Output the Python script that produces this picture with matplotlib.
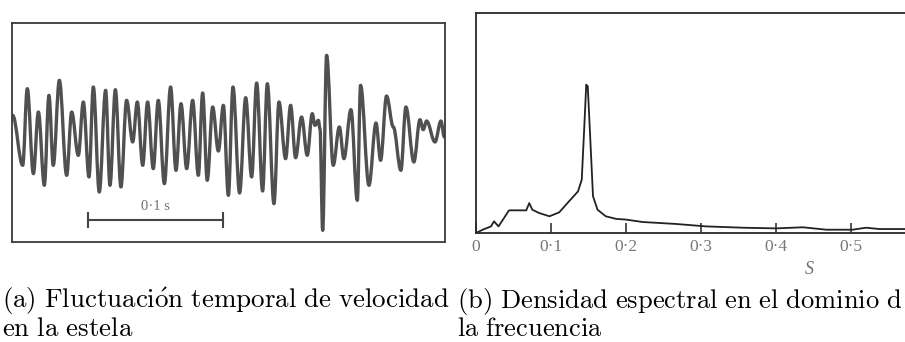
import matplotlib
matplotlib.use("Agg")
import matplotlib.pyplot as plt
from matplotlib.path import Path
from matplotlib.patches import PathPatch

plt.rcParams['mathtext.fontset'] = 'cm'

# (a) velocity trace: successive peaks/troughs, time in ms, u' arbitrary units
t_ext = [0.5, 7.9, 11.3, 15.8, 19.5, 23.9, 27.3, 30.5, 35.0, 40.4,
         44.1, 49.0, 52.7, 56.9, 60.1, 64.5, 69.2, 72.4, 76.4, 80.5,
         84.7, 89.2, 92.6, 96.6, 100.2, 104.4, 108.1, 112.6, 117.2, 121.2,
         124.9, 129.1, 133.5, 137.7, 140.9, 144.3, 148.3, 152.5, 156.2, 159.9,
         163.3, 168.2, 172.7, 177.1, 180.8, 185.2, 188.7, 193.6, 197.3, 202.2,
         205.9, 209.6, 214.0, 218.2, 221.9, 223.9, 226.4, 227.6, 229.6, 232.5,
         237.4, 241.9, 245.3, 250.5, 255.2, 257.6, 263.8, 269.0, 272.4, 276.8,
         281.8, 287.4, 291.1, 297.0, 301.5, 303.9, 306.4, 312.6, 317.0, 319.5]
u_ext = [0.55, -0.95, 1.35, -1.20, 0.65, -1.55, 1.15, -0.95, 1.60, -1.25,
         0.65, -0.65, 0.95, -1.30, 1.40, -1.75, 1.30, -1.55, 1.32, -1.60,
         1.00, -0.25, 0.95, -0.95, 0.95, -1.05, 1.00, -1.50, 1.40, -1.10,
         0.90, -1.05, 1.00, -1.25, 1.22, -1.40, 0.80, -0.52, 0.85, -1.85,
         1.40, -1.78, 1.08, -1.30, 1.52, -1.72, 1.50, -2.10, 0.95, -0.75,
         0.85, -0.72, 0.50, -0.65, 0.60, 0.25, 0.40, 0.15, -2.90, 2.35,
         -0.95, 0.20, -0.75, 0.72, -2.00, 1.45, -1.55, 0.32, -0.80, 1.13,
         0.20, -1.10, 0.80, -0.85, 0.42, 0.12, 0.38, -0.25, 0.38, -0.10]
scale_start = 56   # ms
scale_len = 100    # 0.1 s

# (b) spectral density vs Strouhal number
s_vals = [0, 0.009, 0.020, 0.024, 0.030, 0.036, 0.044, 0.067, 0.071, 0.075,
          0.084, 0.098, 0.111, 0.124, 0.136, 0.141, 0.144, 0.147, 0.149, 0.152,
          0.156, 0.162, 0.173, 0.187, 0.200, 0.222, 0.267, 0.307, 0.356, 0.400,
          0.436, 0.467, 0.502, 0.520, 0.538, 0.571, 0.62]
e_vals = [0, 0.15, 0.30, 0.53, 0.30, 0.61, 1.03, 1.03, 1.36, 1.06,
          0.91, 0.76, 0.94, 1.44, 1.89, 2.42, 4.55, 6.74, 6.67, 4.55,
          1.67, 1.06, 0.76, 0.64, 0.61, 0.50, 0.41, 0.30, 0.24, 0.21,
          0.26, 0.15, 0.15, 0.24, 0.18, 0.18, 0.17]
s_ticks = [0, 0.1, 0.2, 0.3, 0.4, 0.5]
s_labels = ['0', '0·1', '0·2', '0·3', '0·4', '0·5']

cap_a = [r'$\mathrm{(a)\ Fluctuaci\acute{o}n\ temporal\ de\ velocidad}$',
         r'$\mathrm{en\ la\ estela}$']
cap_b = [r'$\mathrm{(b)\ Densidad\ espectral\ en\ el\ dominio\ d}$',
         r'$\mathrm{la\ frecuencia}$']

fig = plt.figure(figsize=(9.05, 3.42), dpi=100)

# left panel
ax1 = fig.add_axes([12/905, 100/342, 433/905, 219/342])
verts = [(t_ext[0], u_ext[0])]
codes = [Path.MOVETO]
for i in range(len(t_ext) - 1):
    d = (t_ext[i+1] - t_ext[i]) * 0.36
    verts += [(t_ext[i] + d, u_ext[i]), (t_ext[i+1] - d, u_ext[i+1]), (t_ext[i+1], u_ext[i+1])]
    codes += [Path.CURVE4] * 3
ax1.add_patch(PathPatch(Path(verts, codes), fill=False, edgecolor='#505050', lw=2.4,
                        joinstyle='round', capstyle='round'))
ax1.set_xlim(0, 320)
ax1.set_ylim(-3.25, 3.32)
ax1.set_xticks([])
ax1.set_yticks([])
for sp in ax1.spines.values():
    sp.set_linewidth(1.3)
    sp.set_color('#3a3a3a')

# scale bar
ax1.plot([scale_start, scale_start + scale_len], [-2.6, -2.6], color='#444444', lw=1.5)
for x in (scale_start, scale_start + scale_len):
    ax1.plot([x, x], [-2.37, -2.8], color='#444444', lw=1.5)
ax1.text(scale_start + scale_len/2, -2.2, '0·1 s', ha='center', va='center',
         fontsize=10.5, family='Liberation Serif', color='#707070')

# right panel
ax2 = fig.add_axes([476/905, 109/342, 465/905, 220/342])
ax2.plot(s_vals, e_vals, color='#222222', lw=1.3)
ax2.set_xlim(0, 0.62)
ax2.set_ylim(0, 10)
ax2.set_yticks([])
ax2.set_xticks(s_ticks)
ax2.set_xticklabels(s_labels, family='Liberation Serif', fontsize=12.5, color='#777777')
ax2.tick_params(axis='x', direction='in', length=7, width=1.2, color='#333333', pad=4)
for sp in ax2.spines.values():
    sp.set_linewidth(1.3)
    sp.set_color('#2a2a2a')
ax2.text(0.445, -0.125, 'S', transform=ax2.get_xaxis_transform(), ha='center', va='top',
         fontsize=13, style='italic', family='Liberation Serif', color='#707070')

# captions
fig.text(2/905, (342-308)/342, cap_a[0], fontsize=19.4, va='baseline', ha='left')
fig.text(2/905, (342-336)/342, cap_a[1], fontsize=19.4, va='baseline', ha='left')
fig.text(457/905, (342-308)/342, cap_b[0], fontsize=19.1, va='baseline', ha='left')
fig.text(457/905, (342-336)/342, cap_b[1], fontsize=19.1, va='baseline', ha='left')

fig.savefig('out.png', dpi=100)
